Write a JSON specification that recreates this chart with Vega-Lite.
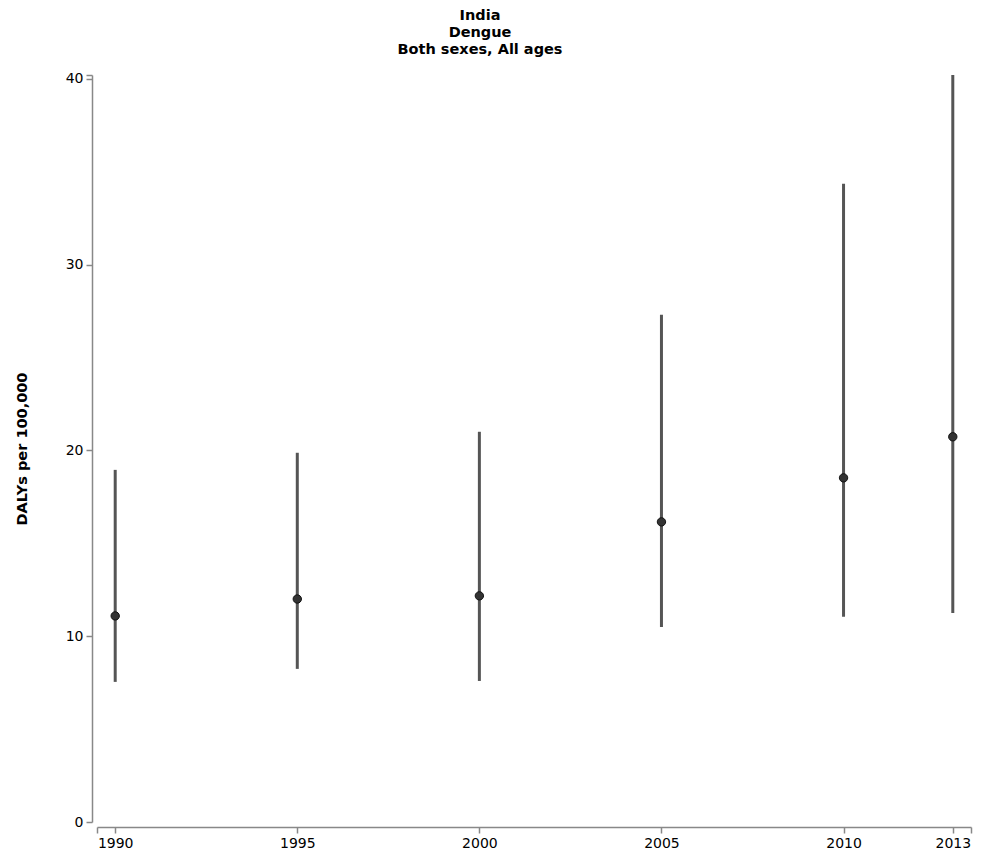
{
  "$schema": "https://vega.github.io/schema/vega-lite/v6.json",
  "autosize": "none",
  "width": 874,
  "height": 747,
  "padding": {"left": 97, "top": 75, "right": 13, "bottom": 31},
  "background": "white",
  "title": {
    "text": ["India", "Dengue", "Both sexes, All ages"],
    "font": "DejaVu Sans",
    "fontSize": 14.5,
    "fontWeight": "bold",
    "color": "#000",
    "lineHeight": 17,
    "anchor": "middle",
    "dx": -54,
    "offset": 11
  },
  "data": {
    "values": [
      {"year": 1990, "mean": 11.09, "lower": 7.54, "upper": 18.95},
      {"year": 1995, "mean": 12.0, "lower": 8.24, "upper": 19.87},
      {"year": 2000, "mean": 12.17, "lower": 7.59, "upper": 21.0},
      {"year": 2005, "mean": 16.15, "lower": 10.5, "upper": 27.3},
      {"year": 2010, "mean": 18.52, "lower": 11.04, "upper": 34.35},
      {"year": 2013, "mean": 20.73, "lower": 11.25, "upper": 40.2}
    ]
  },
  "config": {
    "view": {"stroke": null},
    "axis": {
      "grid": false,
      "domainColor": "#888",
      "tickColor": "#888",
      "domainWidth": 1.5,
      "tickWidth": 1.5,
      "tickSize": 6,
      "labelFont": "DejaVu Sans",
      "labelFontSize": 14,
      "labelColor": "#000",
      "titleFont": "DejaVu Sans",
      "titleFontSize": 14.5,
      "titleFontWeight": "bold",
      "titleColor": "#000"
    }
  },
  "encoding": {
    "x": {
      "field": "year",
      "type": "quantitative",
      "scale": {"domain": [1989.5, 2013.5], "nice": false, "zero": false},
      "axis": {
        "title": null,
        "offset": 5,
        "values": [1989.5, 1990, 1995, 2000, 2005, 2010, 2013, 2013.5],
        "labelExpr": "datum.value == 1989.5 || datum.value == 2013.5 ? '' : format(datum.value, 'd')",
        "labelPadding": 3,
        "labelFlush": false,
        "labelOverlap": false
      }
    }
  },
  "layer": [
    {
      "mark": {"type": "rule", "color": "#555", "strokeWidth": 3},
      "encoding": {
        "y": {
          "field": "lower",
          "type": "quantitative",
          "scale": {"domain": [0, 40.2], "nice": false},
          "axis": {
            "title": "DALYs per 100,000",
            "titlePadding": 36,
            "offset": 5,
            "values": [0, 10, 20, 30, 40, 40.2],
            "labelExpr": "datum.value > 40 ? '' : format(datum.value, 'd')",
            "labelPadding": 3,
            "labelFlush": false,
            "labelOverlap": false
          }
        },
        "y2": {"field": "upper"}
      }
    },
    {
      "mark": {"type": "point", "filled": true, "color": "#333", "size": 70, "opacity": 1, "stroke": "#111", "strokeWidth": 1},
      "encoding": {
        "y": {"field": "mean", "type": "quantitative"}
      }
    }
  ]
}
